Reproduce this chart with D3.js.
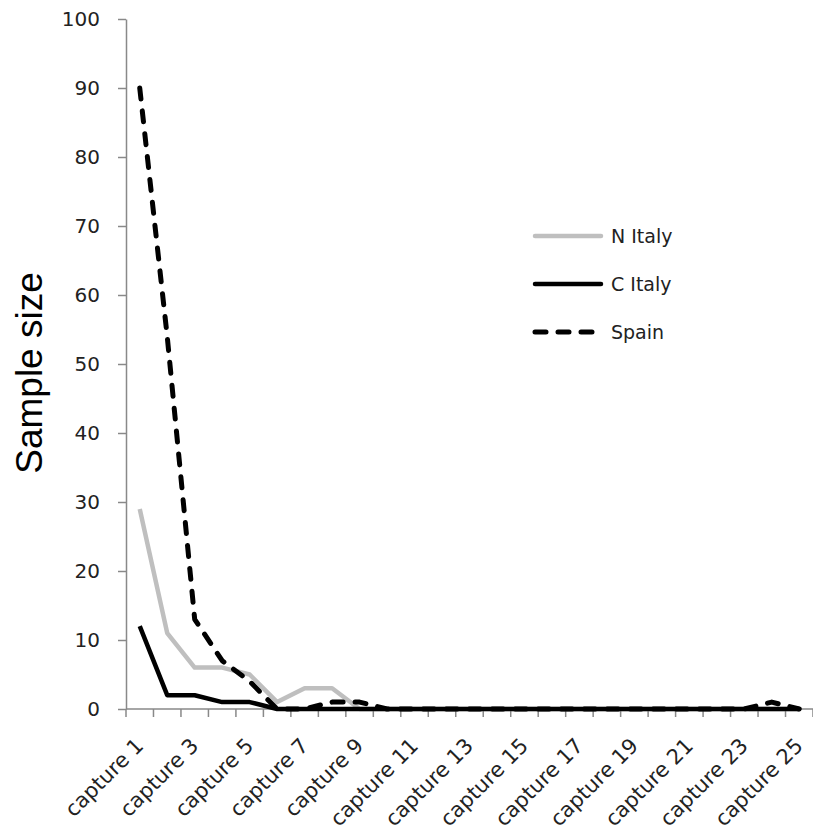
<!DOCTYPE html>
<html>
<head>
<meta charset="utf-8">
<script src="https://cdn.jsdelivr.net/npm/d3@7"></script>
<style>
  html, body { margin: 0; padding: 0; background: #fff; }
  svg { display: block; }
</style>
</head>
<body>
<svg id="chart" width="813" height="835"></svg>
<script>
const categories = ["capture 1","capture 2","capture 3","capture 4","capture 5","capture 6","capture 7","capture 8","capture 9","capture 10",
  "capture 11","capture 12","capture 13","capture 14","capture 15","capture 16","capture 17","capture 18","capture 19","capture 20",
  "capture 21","capture 22","capture 23","capture 24","capture 25"];
const nItaly = [29,11,6,6,5,1,3,3,0,0,0,0,0,0,0,0,0,0,0,0,0,0,0,0,0];
const cItaly = [12,2,2,1,1,0,0,0,0,0,0,0,0,0,0,0,0,0,0,0,0,0,0,0,0];
const spain  = [90,54,13,7,4,0,0,1,1,0,0,0,0,0,0,0,0,0,0,0,0,0,0,1,0];
const seriesNames = ["N Italy","C Italy","Spain"];
const yTicks = [0,10,20,30,40,50,60,70,80,90,100];
const xLabels = ["capture 1","capture 3","capture 5","capture 7","capture 9","capture 11","capture 13",
  "capture 15","capture 17","capture 19","capture 21","capture 23","capture 25"];
const yTitle = "Sample size";

(function () {
const svg = d3.select("#chart");
const mLeft = 126, mRight = 813, mTop = 19, mBottom = 709;
const axisColor = "#898989";
const font = "'DejaVu Sans', Verdana, sans-serif";

const x = d3.scaleBand().domain(categories).range([mLeft, mRight]).padding(0);
const cx = c => x(c) + x.bandwidth() / 2;
const y = d3.scaleLinear().domain([0, 100]).range([mBottom, mTop]);

// Y axis
const yAxis = svg.append("g").attr("transform", `translate(${mLeft},0)`)
  .call(d3.axisLeft(y).tickValues(yTicks).tickSize(8).tickPadding(18).tickSizeOuter(0));
yAxis.select(".domain").attr("stroke", axisColor).attr("stroke-width", 1.5);
yAxis.selectAll(".tick line").attr("stroke", axisColor).attr("stroke-width", 1.5);
yAxis.selectAll(".tick text").attr("font-family", font).attr("font-size", 20).attr("fill", "#222");

// X axis line and boundary ticks
const xg = svg.append("g");
xg.append("line").attr("x1", mLeft).attr("x2", mRight).attr("y1", mBottom).attr("y2", mBottom)
  .attr("stroke", axisColor).attr("stroke-width", 1.5);
const bounds = categories.map(c => x(c)).concat([x.range()[1]]);
xg.selectAll("line.tk").data(bounds).enter().append("line").attr("class", "tk")
  .attr("x1", d => d).attr("x2", d => d).attr("y1", mBottom).attr("y2", mBottom + 8)
  .attr("stroke", axisColor).attr("stroke-width", 1.5);
xg.selectAll("text").data(xLabels).enter().append("text")
  .attr("transform", d => `translate(${cx(d) + 5},${mBottom + 38}) rotate(-45)`)
  .attr("text-anchor", "end")
  .attr("font-family", font).attr("font-size", 21).attr("fill", "#222")
  .text(d => d);

// Y title
svg.append("text")
  .attr("transform", `translate(42,373) rotate(-90)`)
  .attr("text-anchor", "middle")
  .attr("font-family", "'Liberation Sans', Arial, sans-serif")
  .attr("font-size", 37).attr("fill", "#000")
  .text(yTitle);

// Series
const styles = [
  { data: nItaly, color: "#bfbfbf", width: 4.5, dash: null, cap: "butt" },
  { data: cItaly, color: "#000000", width: 4.5, dash: null, cap: "butt" },
  { data: spain,  color: "#000000", width: 5,   dash: "11,12", cap: "round" }
];
const line = d3.line().x((d, i) => cx(categories[i])).y(d => y(d));
styles.forEach(s => {
  svg.append("path").datum(s.data)
    .attr("d", line)
    .attr("fill", "none")
    .attr("stroke", s.color)
    .attr("stroke-width", s.width)
    .attr("stroke-linejoin", "round")
    .attr("stroke-linecap", s.cap)
    .attr("stroke-dasharray", s.dash);
});

// Legend
const legendY = [236, 284, 332];
const lg = svg.append("g");
seriesNames.forEach((name, i) => {
  const s = styles[i];
  lg.append("line").attr("x1", 535).attr("x2", 601).attr("y1", legendY[i]).attr("y2", legendY[i])
    .attr("stroke", s.color).attr("stroke-width", s.width)
    .attr("stroke-linecap", "round")
    .attr("stroke-dasharray", s.dash);
  lg.append("text").attr("x", 611).attr("y", legendY[i]).attr("dy", "0.35em")
    .attr("font-family", font).attr("font-size", 19).attr("fill", "#222")
    .text(name);
});
})();
</script>
</body>
</html>
